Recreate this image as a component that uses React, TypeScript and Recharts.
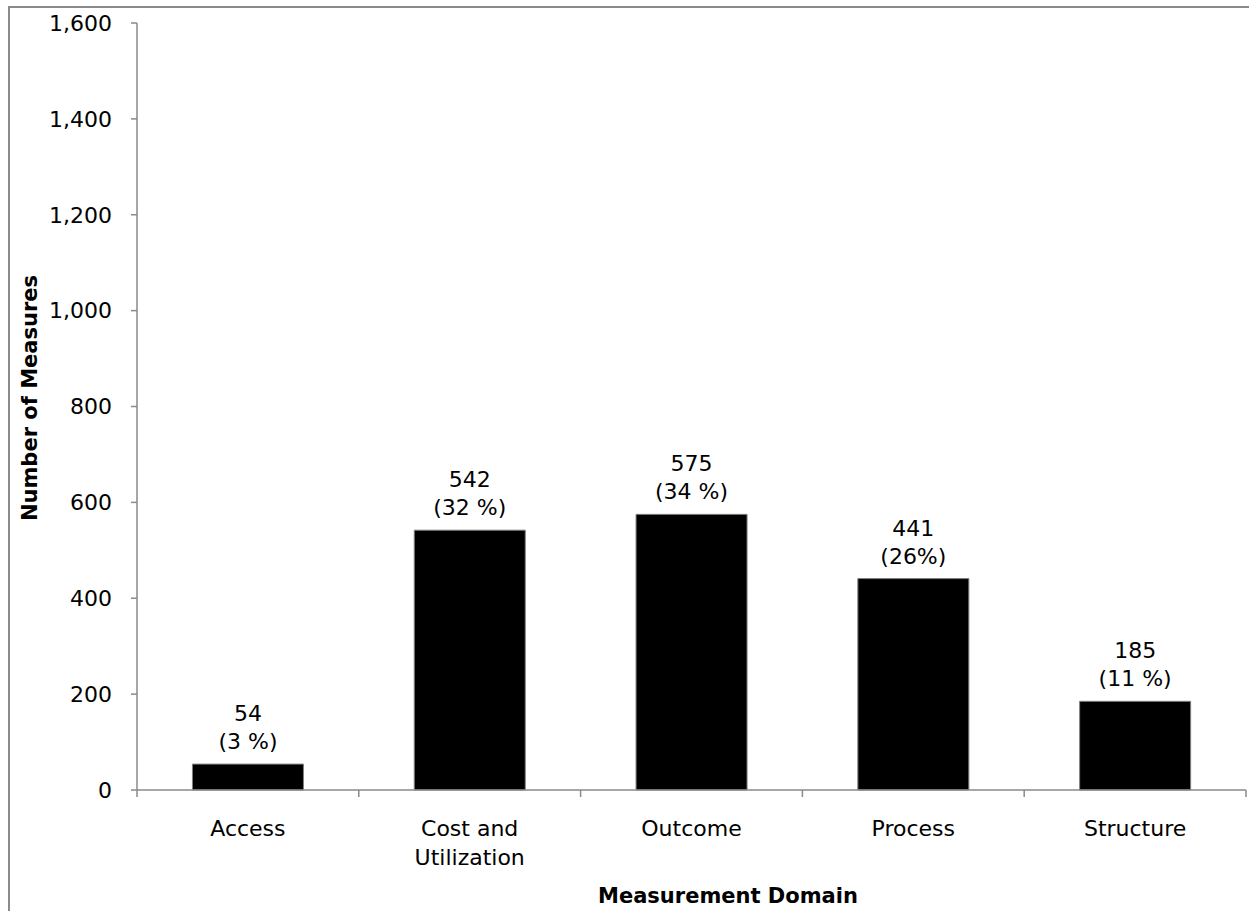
import { BarChart, Bar, XAxis, YAxis, LabelList } from 'recharts';

const categories = ['Access', 'Cost and Utilization', 'Outcome', 'Process', 'Structure'];
// how each category name wraps under the axis
const categoryLines = [['Access'], ['Cost and', 'Utilization'], ['Outcome'], ['Process'], ['Structure']];
const measures = [54, 542, 575, 441, 185];
const shares = ['(3 %)', '(32 %)', '(34 %)', '(26%)', '(11 %)'];
const yTicks = [0, 200, 400, 600, 800, 1000, 1200, 1400, 1600];

const data = categories.map((name, i) => ({ name, measures: measures[i], share: shares[i] }));

const W = 1249;
const H = 911;
const X_AXIS_H = 30;
const MARGIN = { top: 23, right: 3, bottom: 121 - X_AXIS_H, left: 0 };
const Y_AXIS_W = 137;
const FONT = '"DejaVu Sans", Verdana, sans-serif';
const AXIS_GRAY = '#8a8a8a';
const BAND = (W - MARGIN.right - MARGIN.left - Y_AXIS_W) / categories.length;

function CategoryTick(props: any) {
  const { x, y, index } = props;
  const lines = categoryLines[index] || [];
  return (
    <g>
      <line x1={x - BAND / 2} x2={x - BAND / 2} y1={y} y2={y + 7} stroke={AXIS_GRAY} strokeWidth={1.5} />
      {index === categories.length - 1 && (
        <line x1={x + BAND / 2} x2={x + BAND / 2} y1={y} y2={y + 7} stroke={AXIS_GRAY} strokeWidth={1.5} />
      )}
      {lines.map((t, i) => (
        <text key={i} x={x} y={y + 46 + i * 29} textAnchor="middle" fontSize={22} fill="#000" fontFamily={FONT}>
          {t}
        </text>
      ))}
    </g>
  );
}

function BarLabel(props: any) {
  const { x, y, width, value, index } = props;
  const cx = x + width / 2;
  return (
    <g fontFamily={FONT} fontSize={22} fill="#000">
      <text x={cx} y={y - 43} textAnchor="middle">{value}</text>
      <text x={cx} y={y - 15} textAnchor="middle">{shares[index]}</text>
    </g>
  );
}

export default function App() {
  return (
    <div style={{ position: 'absolute', left: 0, top: 0, width: W, height: H, overflow: 'hidden', background: '#fff' }}>
      <div
        style={{
          position: 'absolute',
          left: 8,
          top: 6,
          width: 1400,
          height: 1000,
          border: `2px solid ${AXIS_GRAY}`,
        }}
      />
      <div style={{ position: 'absolute', left: 0, top: 0 }}>
        <BarChart width={W} height={H} data={data} margin={MARGIN} barCategoryGap="25%">
          <XAxis
            dataKey="name"
            height={X_AXIS_H}
            tickLine={false}
            tickSize={0}
            tickMargin={0}
            interval={0}
            tick={<CategoryTick />}
            axisLine={{ stroke: AXIS_GRAY, strokeWidth: 1.5 }}
            label={{
              content: () => (
                <text x={728} y={903} textAnchor="middle" fontSize={21} fontWeight="bold" fontFamily={FONT} fill="#000">
                  Measurement Domain
                </text>
              ),
            }}
          />
          <YAxis
            width={Y_AXIS_W}
            domain={[0, 1600]}
            ticks={yTicks}
            interval={0}
            tickSize={6}
            tickMargin={19}
            tickFormatter={(v: number) => v.toLocaleString('en-US')}
            tick={{ fontSize: 22, fill: '#000', fontFamily: FONT }}
            tickLine={{ stroke: AXIS_GRAY, strokeWidth: 1.5 }}
            axisLine={{ stroke: AXIS_GRAY, strokeWidth: 1.5 }}
            label={{
              content: () => (
                <text
                  x={37}
                  y={398}
                  transform="rotate(-90 37 398)"
                  textAnchor="middle"
                  fontSize={21}
                  fontWeight="bold"
                  fontFamily={FONT}
                  fill="#000"
                >
                  Number of Measures
                </text>
              ),
            }}
          />
          <Bar dataKey="measures" fill="#000" stroke="#7f7f7f" strokeWidth={1} isAnimationActive={false}>
            <LabelList dataKey="measures" content={<BarLabel />} />
          </Bar>
        </BarChart>
      </div>
    </div>
  );
}
